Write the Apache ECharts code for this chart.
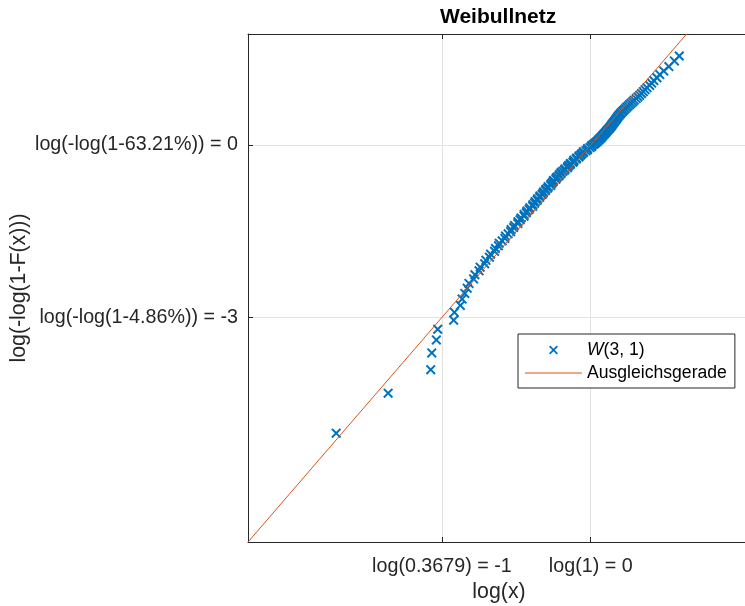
<!DOCTYPE html>
<html>
<head>
<meta charset="utf-8">
<script src="https://cdn.jsdelivr.net/npm/echarts@6/dist/echarts.min.js"></script>
<style>
html,body{margin:0;padding:0;background:#fff;}
#chart{width:745px;height:606px;}
</style>
</head>
<body>
<div id="chart"></div>
<script>
// ---- data ----
const titleText = 'Weibullnetz';
const xName = 'log(x)';
const yName = 'log(-log(1-F(x)))';
const seriesNames = ['W(3, 1)', 'Ausgleichsgerade'];

const xLimits = [-2.3026, 1.07];
const yLimits = [-6.9078, 1.9327];

const xTicks = [-1, 0];
const xTickLabels = ['log(0.3679) = -1', 'log(1) = 0'];
const yTicks = [-3, 0];
const yTickLabels = ['log(-log(1-4.86%)) = -3', 'log(-log(1-63.21%)) = 0'];

// sample points (log(x), log(-log(1-F)))
const xValues = [
 -1.710, -1.361, -1.075, -1.068, -1.037, -1.028, -0.921, -0.916, -0.876, -0.864,
 -0.846, -0.830, -0.818, -0.787, -0.778, -0.750, -0.743, -0.713, -0.704, -0.681,
 -0.673, -0.646, -0.640, -0.620, -0.615, -0.595, -0.577, -0.573, -0.555, -0.538,
 -0.535, -0.518, -0.512, -0.490, -0.489, -0.474, -0.468, -0.448, -0.448, -0.433,
 -0.428, -0.414, -0.409, -0.390, -0.389, -0.377, -0.374, -0.360, -0.357, -0.343,
 -0.341, -0.327, -0.320, -0.317, -0.304, -0.301, -0.289, -0.286, -0.269, -0.267,
 -0.260, -0.253, -0.250, -0.234, -0.232, -0.225, -0.213, -0.211, -0.200, -0.198,
 -0.186, -0.175, -0.173, -0.157, -0.155, -0.149, -0.138, -0.136, -0.120, -0.114,
 -0.113, -0.097, -0.095, -0.079, -0.078, -0.067, -0.061, -0.050, -0.049, -0.033,
 -0.022, -0.021, -0.005, 0.006, 0.007, 0.018, 0.027, 0.035, 0.043, 0.051,
 0.058, 0.065, 0.072, 0.078, 0.084, 0.091, 0.097, 0.103, 0.109, 0.115,
 0.122, 0.128, 0.134, 0.140, 0.145, 0.151, 0.156, 0.162, 0.167, 0.173,
 0.179, 0.185, 0.192, 0.199, 0.206, 0.215, 0.223, 0.232, 0.241, 0.251,
 0.261, 0.271, 0.282, 0.292, 0.305, 0.317, 0.329, 0.341, 0.353, 0.365,
 0.378, 0.396, 0.409, 0.424, 0.445, 0.464, 0.490, 0.525, 0.562, 0.595
];
const yValues = [
 -5.014, -4.317, -3.909, -3.618, -3.391, -3.205, -3.048, -2.911, -2.790, -2.681,
 -2.582, -2.491, -2.408, -2.330, -2.257, -2.189, -2.125, -2.064, -2.006, -1.951,
 -1.899, -1.849, -1.800, -1.754, -1.709, -1.666, -1.625, -1.584, -1.545, -1.507,
 -1.471, -1.435, -1.400, -1.366, -1.333, -1.301, -1.269, -1.238, -1.208, -1.178,
 -1.149, -1.121, -1.093, -1.066, -1.039, -1.012, -0.986, -0.960, -0.935, -0.910,
 -0.886, -0.862, -0.839, -0.815, -0.792, -0.769, -0.747, -0.724, -0.702, -0.680,
 -0.659, -0.638, -0.616, -0.595, -0.575, -0.554, -0.534, -0.513, -0.493, -0.474,
 -0.454, -0.434, -0.415, -0.395, -0.376, -0.357, -0.338, -0.319, -0.300, -0.282,
 -0.263, -0.244, -0.226, -0.208, -0.189, -0.171, -0.153, -0.135, -0.116, -0.098,
 -0.080, -0.062, -0.044, -0.026, -0.008, 0.010, 0.028, 0.046, 0.064, 0.082,
 0.100, 0.118, 0.136, 0.155, 0.173, 0.191, 0.210, 0.228, 0.247, 0.265,
 0.284, 0.303, 0.322, 0.341, 0.360, 0.380, 0.399, 0.419, 0.439, 0.460,
 0.480, 0.501, 0.522, 0.543, 0.565, 0.587, 0.609, 0.632, 0.656, 0.679,
 0.704, 0.729, 0.755, 0.781, 0.809, 0.837, 0.866, 0.897, 0.929, 0.963,
 0.999, 1.037, 1.078, 1.122, 1.171, 1.226, 1.290, 1.366, 1.464, 1.550
];

// fitted line end points
const fitX = [-2.3026, 0.6442];
const fitY = [-6.9078, 1.9327];

// ---- chart ----
const FONT = '"Liberation Sans", Arial, Helvetica, sans-serif';
const TXT = '#262626';
const XMARK = 'path://M0,14L14,0L50,36L86,0L100,14L64,50L100,86L86,100L50,64L14,100L0,86L36,50Z';
const LINEICON = 'path://M0,0L100,0L100,2L0,2Z';

const chart = echarts.init(document.getElementById('chart'), null, {renderer: 'canvas'});

const scatterData = xValues.map((x, i) => [x, yValues[i]]);
const fitData = fitX.map((x, i) => [x, fitY[i]]);

const option = {
  animation: false,
  backgroundColor: '#ffffff',
  textStyle: {fontFamily: FONT},
  title: {
    text: titleText,
    left: 440,
    top: 7,
    padding: 0,
    textStyle: {fontFamily: FONT, fontSize: 21, fontWeight: 'bold', color: '#000000'}
  },
  grid: {
    left: 248, top: 34, width: 502, height: 508,
    show: true, borderWidth: 0, backgroundColor: '#ffffff',
    containLabel: false,
    outerBoundsMode: 'none'
  },
  legend: {
    orient: 'vertical',
    left: 518, top: 334,
    padding: [6, 8, 5, 7],
    itemGap: 3,
    itemWidth: 57,
    itemHeight: 9,
    borderColor: TXT,
    borderWidth: 1,
    backgroundColor: '#ffffff',
    data: [
      {name: seriesNames[0], icon: XMARK},
      {name: seriesNames[1], icon: LINEICON}
    ],
    formatter: function (name) {
      return name === seriesNames[0] ? '{it|W}(3, 1)' : name;
    },
    textStyle: {
      fontFamily: FONT, fontSize: 17.6, color: '#000000', lineHeight: 20,
      rich: {it: {fontStyle: 'italic', fontFamily: FONT, fontSize: 17.6, lineHeight: 20, color: '#000000'}}
    }
  },
  xAxis: [
    {
      type: 'value', min: xLimits[0], max: xLimits[1], position: 'bottom',
      name: xName, nameLocation: 'middle', nameGap: 40,
      nameTextStyle: {fontFamily: FONT, fontSize: 21.3, color: TXT},
      axisLine: {show: true, onZero: false, lineStyle: {color: TXT, width: 1}},
      axisTick: {show: true, inside: true, length: 5, customValues: xTicks, lineStyle: {color: TXT}},
      axisLabel: {
        show: true, margin: 15, customValues: xTicks,
        fontFamily: FONT, fontSize: 19.7, color: TXT,
        formatter: function (v) { const k = xTicks.indexOf(v); return k >= 0 ? xTickLabels[k] : ''; }
      },
      splitLine: {show: true, lineStyle: {color: '#e3e3e3', width: 1}}
    },
    {
      type: 'value', min: xLimits[0], max: xLimits[1], position: 'top', gridIndex: 0,
      axisLine: {show: true, onZero: false, lineStyle: {color: TXT, width: 1}},
      axisTick: {show: true, inside: true, length: 5, customValues: xTicks, lineStyle: {color: TXT}},
      axisLabel: {show: false},
      splitLine: {show: false}
    }
  ],
  yAxis: [
    {
      type: 'value', min: yLimits[0], max: yLimits[1], position: 'left',
      name: yName, nameLocation: 'middle', nameGap: 218, nameMoveOverlap: false,
      nameTextStyle: {fontFamily: FONT, fontSize: 21.3, color: TXT},
      axisLine: {show: true, onZero: false, lineStyle: {color: TXT, width: 1}},
      axisTick: {show: true, inside: true, length: 5, customValues: yTicks, lineStyle: {color: TXT}},
      axisLabel: {
        show: true, margin: 10, customValues: yTicks,
        fontFamily: FONT, fontSize: 19.7, color: TXT,
        formatter: function (v) { const k = yTicks.indexOf(v); return k >= 0 ? yTickLabels[k] : ''; }
      },
      splitLine: {show: true, lineStyle: {color: '#e3e3e3', width: 1}}
    }
  ],
  series: [
    {
      name: seriesNames[0],
      type: 'scatter',
      xAxisIndex: 0, yAxisIndex: 0,
      symbol: XMARK,
      symbolSize: 10,
      symbolKeepAspect: true,
      itemStyle: {color: '#0072BD', opacity: 1},
      emphasis: {disabled: true},
      data: scatterData,
      z: 2
    },
    {
      name: seriesNames[1],
      type: 'line',
      xAxisIndex: 0, yAxisIndex: 0,
      symbol: 'none',
      showSymbol: false,
      clip: true,
      lineStyle: {color: '#D95319', width: 1},
      itemStyle: {color: '#D95319'},
      emphasis: {disabled: true},
      data: fitData,
      z: 3
    }
  ]
};
chart.setOption(option);
</script>
</body>
</html>
